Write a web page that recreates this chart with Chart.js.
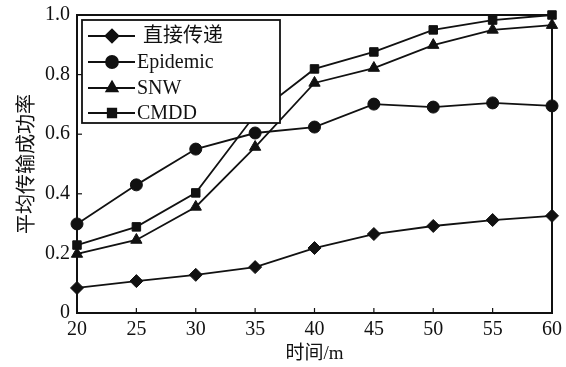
<!DOCTYPE html>
<html>
<head>
<meta charset="utf-8">
<script src="https://cdn.jsdelivr.net/npm/chart.js@4/dist/chart.umd.min.js"></script>
<style>
  html, body { margin: 0; padding: 0; background: #fff; }
  #wrap { width: 566px; height: 367px; }
</style>
</head>
<body>
<div id="wrap"><canvas id="c" width="566" height="367"></canvas></div>
<script>
// Delivery ratio vs. time for four routing schemes
const times = ['20', '25', '30', '35', '40', '45', '50', '55', '60'];
const directDelivery = [0.084, 0.107, 0.128, 0.154, 0.218, 0.265, 0.292, 0.312, 0.326];
const epidemic       = [0.299, 0.430, 0.550, 0.604, 0.624, 0.701, 0.691, 0.705, 0.695];
const snw            = [0.198, 0.245, 0.356, 0.557, 0.772, 0.822, 0.899, 0.950, 0.966];
const cmdd           = [0.228, 0.289, 0.403, 0.665, 0.819, 0.876, 0.950, 0.983, 1.000];
const seriesNames    = ['直接传递', 'Epidemic', 'SNW', 'CMDD'];
const yTicks         = [0, 0.2, 0.4, 0.6, 0.8, 1.0];
const xTitle = '时间/m';
const yTitle = '平均传输成功率';

const FONT = "'Liberation Serif', 'Noto Sans CJK SC', serif";
const INK = '#111';

const styles = [
  { pointStyle: 'rectRot', pointRadius: 6.5 },
  { pointStyle: 'circle',  pointRadius: 6 },
  { pointStyle: 'triangle', pointRadius: 6.5 },
  { pointStyle: 'rect',    pointRadius: 6 }
];
const seriesData = [directDelivery, epidemic, snw, cmdd];

const datasets = seriesData.map((d, i) => ({
  label: seriesNames[i],
  data: d,
  borderColor: INK,
  backgroundColor: INK,
  borderWidth: 1.8,
  pointStyle: styles[i].pointStyle,
  pointRadius: styles[i].pointRadius,
  pointBorderWidth: 1,
  pointBackgroundColor: INK,
  pointBorderColor: INK,
  tension: 0,
  clip: false
}));

// Frame around the plot plus inward-pointing tick marks
const framePlugin = {
  id: 'frame',
  afterDraw(chart) {
    const { ctx, chartArea: a, scales } = chart;
    ctx.save();
    ctx.strokeStyle = INK;
    ctx.lineWidth = 2;
    ctx.strokeRect(a.left, a.top, a.right - a.left, a.bottom - a.top);
    ctx.lineWidth = 1.2;
    scales.x.ticks.forEach((t, i) => {
      const px = scales.x.getPixelForTick(i);
      ctx.beginPath(); ctx.moveTo(px, a.bottom); ctx.lineTo(px, a.bottom - 5); ctx.stroke();
    });
    scales.y.ticks.forEach((t, i) => {
      const py = scales.y.getPixelForTick(i);
      ctx.beginPath(); ctx.moveTo(a.left, py); ctx.lineTo(a.left + 5, py); ctx.stroke();
    });
    ctx.restore();
  }
};

// Boxed legend drawn inside the plot, covering the lines beneath it
const boxLegendPlugin = {
  id: 'boxLegend',
  afterDatasetsDraw(chart) {
    const { ctx, chartArea: a } = chart;
    const x0 = a.left + 5, y0 = a.top + 5, w = 198, h = 103;
    ctx.save();
    ctx.fillStyle = '#fff';
    ctx.fillRect(x0, y0, w, h);
    ctx.strokeStyle = INK;
    ctx.lineWidth = 1.8;
    ctx.strokeRect(x0, y0, w, h);
    const rowY = [36, 62, 88, 113];
    chart.data.datasets.forEach((ds, i) => {
      const y = rowY[i];
      ctx.strokeStyle = INK;
      ctx.lineWidth = 1.8;
      ctx.beginPath(); ctx.moveTo(88, y); ctx.lineTo(135, y); ctx.stroke();
      ctx.fillStyle = INK;
      Chart.helpers.drawPoint(ctx, {
        pointStyle: ds.pointStyle, radius: ds.pointRadius, borderWidth: 1, rotation: 0
      }, 112, y);
      ctx.fill();
      ctx.fillStyle = INK;
      ctx.font = '20px ' + FONT;
      ctx.textBaseline = 'middle';
      ctx.fillText(ds.label, i === 0 ? 143 : 137, y + 1);
    });
    ctx.restore();
  }
};

new Chart(document.getElementById('c'), {
  type: 'line',
  data: { labels: times, datasets },
  options: {
    responsive: false,
    animation: false,
    devicePixelRatio: 1,
    layout: { padding: { left: 0, right: 14, top: 15, bottom: 0 } },
    plugins: { legend: { display: false }, tooltip: { enabled: false } },
    scales: {
      x: {
        type: 'category',
        offset: false,
        grid: { display: false, drawTicks: false },
        border: { display: false },
        ticks: { color: INK, font: { family: FONT, size: 20 }, padding: 5, maxRotation: 0, autoSkip: false },
        title: { display: true, text: xTitle, color: INK, font: { family: FONT, size: 19 }, padding: { top: 0, bottom: 2 } },
        afterFit(s) { s.height = 54; s.paddingLeft = 0; s.paddingRight = 0; }
      },
      y: {
        min: 0, max: 1,
        afterBuildTicks(s) { s.ticks = yTicks.map(v => ({ value: v })); },
        grid: { display: false, drawTicks: false },
        border: { display: false },
        ticks: {
          color: INK, font: { family: FONT, size: 20 }, padding: 7,
          callback: v => (v === 0 ? '0' : Number(v).toFixed(1))
        },
        title: { display: true, text: yTitle, color: INK, font: { family: FONT, size: 20 }, padding: { top: 16, bottom: 4 } },
        afterFit(s) { s.width = 77; s.paddingTop = 0; s.paddingBottom = 0; }
      }
    }
  },
  plugins: [framePlugin, boxLegendPlugin]
});
</script>
</body>
</html>
